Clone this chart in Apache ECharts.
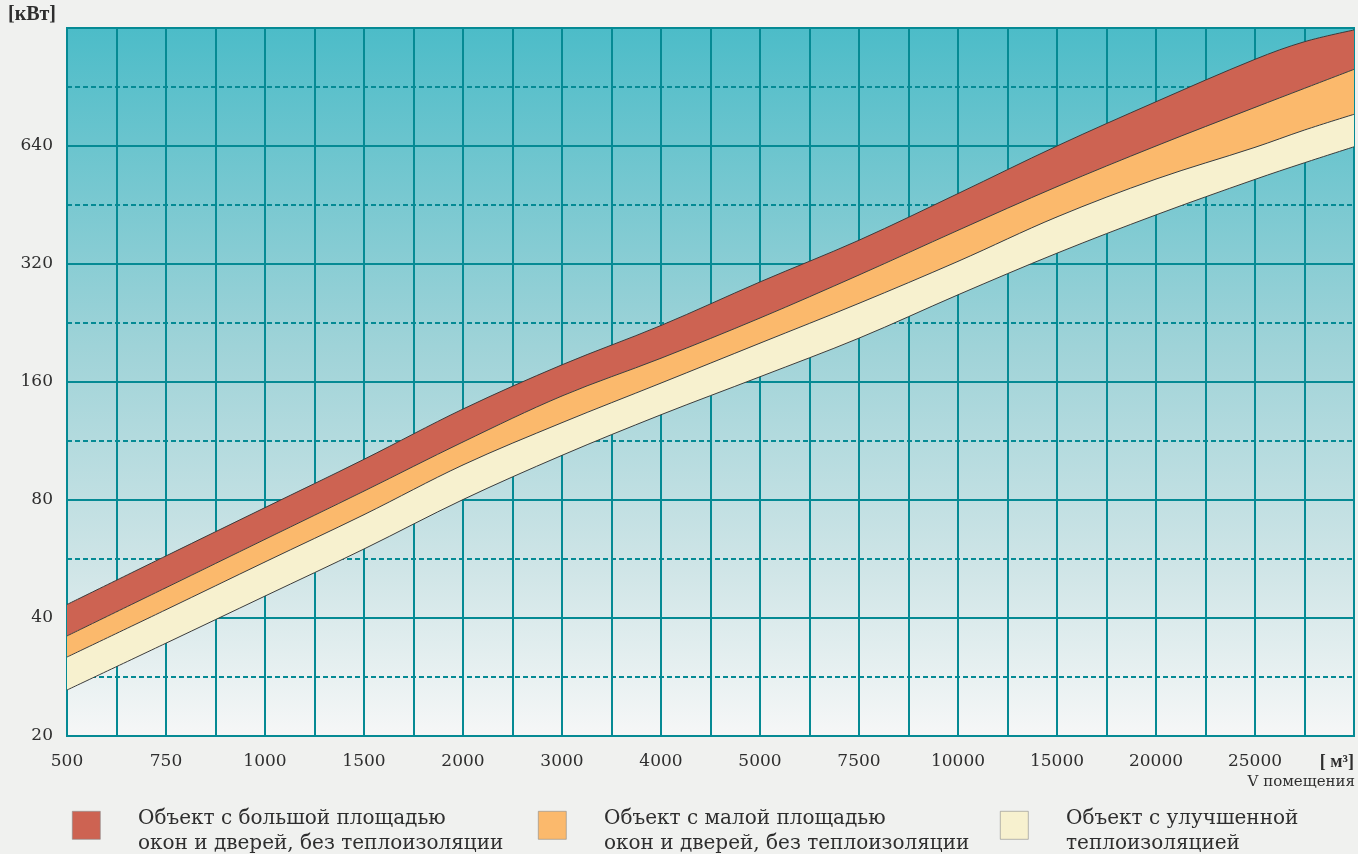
<!DOCTYPE html>
<html>
<head>
<meta charset="utf-8">
<script src="https://cdn.jsdelivr.net/npm/echarts@6/dist/echarts.min.js"></script>
<style>
html,body{margin:0;padding:0;background:#f0f1ef;}
#chart{width:1358px;height:854px;}
</style>
</head>
<body>
<div id="chart"></div>
<script>
// ---- data ----
const volumeLabels = ['500','750','1000','1500','2000','3000','4000','5000','7500','10000','15000','20000','25000'];
const volumeUnit = '[ м³]';
const volumeCaption = 'V помещения';
const powerUnit = '[кВт]';
const powerTicks = [20, 40, 80, 160, 320, 640, 1280];
// positions along the volume axis (index of the volume label; 13 = right end)
const xPos = [0, 1, 2, 3, 4, 5, 6, 7, 8, 9, 10, 11, 12, 12.5, 13];
// band boundaries, kW
const bigWindowsUpper   = [43.3, 57.6, 76.5, 101.6, 136.5, 177, 223, 288, 368, 484, 640, 830, 1065, 1181, 1265];
const smallWindowsUpper = [36.0, 47.8, 63.5, 84.3, 112.5, 147.4, 184, 233, 300, 390, 504, 640, 803, 898, 1004];
const insulatedUpper    = [31.8, 42.0, 55.6, 73.4, 98.3, 126, 159, 201, 254, 325, 422, 527, 635, 703, 771];
const insulatedLower    = [26.2, 34.5, 45.5, 60.0, 80.2, 104, 132, 165, 207, 267, 341, 427, 526, 580, 637];
const bandNames = [
  'Объект с большой площадью\nокон и дверей, без теплоизоляции',
  'Объект с малой площадью\nокон и дверей, без теплоизоляции',
  'Объект с улучшенной\nтеплоизоляцией'
];
const bandColors = ['#cd6352', '#fbb96c', '#f7f1cf'];

// ---- styles ----
const FONT = 'DejaVu Serif';
const UNIT_FONT = 'Liberation Serif';
const TEAL = '#058a94';
const TEXT = '#2e2e2e';
const OUTLINE = '#3c3c3c';

// The power axis is logarithmic (base 2, starting at the lowest tick):
// values are placed by their octave above powerTicks[0].
const base = powerTicks[0];
const octave = v => Math.log2(v / base);
const octaves = powerTicks.length - 1;
// rows are [power (octaves), volume position]; encode maps them to y / x,
// so the stack is computed on the power dimension.
const rows = arr => arr.map((v, i) => [octave(v), xPos[i]]);
// stacked band thickness (in octaves) between an upper and a lower boundary
const bandRows = (up, lo) => up.map((v, i) => [Math.log2(v / lo[i]), xPos[i]]);

const chart = echarts.init(document.getElementById('chart'), null, {renderer: 'canvas'});

const common = {
  type: 'line', stack: 'band', symbol: 'none', smooth: 0.35,
  animation: false, silent: true,
  encode: {x: 1, y: 0},
  lineStyle: {color: OUTLINE, width: 1}
};

const option = {
  backgroundColor: '#f0f1ef',
  animation: false,
  grid: {
    left: 67, right: 4, top: 28, bottom: 118,
    show: true, borderColor: TEAL, borderWidth: 2,
    backgroundColor: new echarts.graphic.LinearGradient(0, 0, 0, 1, [
      {offset: 0, color: '#4cbcc8'},
      {offset: 0.45, color: '#9fd3d8'},
      {offset: 0.75, color: '#cde4e6'},
      {offset: 1, color: '#f6f7f7'}
    ])
  },
  xAxis: {
    type: 'value', min: 0, max: volumeLabels.length, interval: 0.5,
    axisLine: {show: true, lineStyle: {color: TEAL, width: 2}},
    axisTick: {show: false},
    splitLine: {show: true, lineStyle: {color: TEAL, width: 2}},
    axisLabel: {
      margin: 17, fontFamily: FONT, fontSize: 17, color: TEXT,
      alignMaxLabel: 'right',
      formatter: v => {
        if (!Number.isInteger(v)) return '';
        return v < volumeLabels.length ? volumeLabels[v] : '{u|' + volumeUnit + '}';
      },
      rich: {u: {fontFamily: UNIT_FONT, fontSize: 18, fontWeight: 'bold', color: TEXT}}
    }
  },
  yAxis: {
    type: 'value', min: 0, max: octaves, interval: 1,
    axisLine: {show: true, lineStyle: {color: TEAL, width: 2}},
    axisTick: {show: false},
    minorTick: {show: false, splitNumber: 2},
    splitLine: {show: true, lineStyle: {color: TEAL, width: 2}},
    minorSplitLine: {show: true, lineStyle: {color: TEAL, width: 2, type: [5, 3]}},
    axisLabel: {
      margin: 14, fontFamily: FONT, fontSize: 17, color: TEXT,
      showMaxLabel: false,
      formatter: v => String(powerTicks[Math.round(v)])
    }
  },
  series: [
    Object.assign({}, common, {
      name: 'base', z: 6, data: rows(insulatedLower)
    }),
    Object.assign({}, common, {
      name: bandNames[2], z: 5, data: bandRows(insulatedUpper, insulatedLower),
      areaStyle: {color: bandColors[2], opacity: 1}
    }),
    Object.assign({}, common, {
      name: bandNames[1], z: 4, data: bandRows(smallWindowsUpper, insulatedUpper),
      areaStyle: {color: bandColors[1], opacity: 1}
    }),
    Object.assign({}, common, {
      name: bandNames[0], z: 3, data: bandRows(bigWindowsUpper, smallWindowsUpper),
      areaStyle: {color: bandColors[0], opacity: 1}
    })
  ],
  graphic: [
    {type: 'text', left: 8, top: 5, style: {text: powerUnit, font: 'bold 20px "' + UNIT_FONT + '"', fill: TEXT}},
    {type: 'text', right: 3, top: 775, style: {text: volumeCaption, font: '15px "' + FONT + '"', fill: TEXT}}
  ]
};

const legendX = [72, 538, 1000];
bandNames.forEach((name, i) => {
  option.graphic.push({
    type: 'rect', left: legendX[i], top: 811,
    shape: {width: 28, height: 28},
    style: {fill: bandColors[i], stroke: '#8a8a8a', lineWidth: 0.6}
  });
  option.graphic.push({
    type: 'text', left: legendX[i] + 66, top: 806,
    style: {text: name, font: '20px "' + FONT + '"', fill: TEXT, lineHeight: 25}
  });
});

chart.setOption(option);
</script>
</body>
</html>
